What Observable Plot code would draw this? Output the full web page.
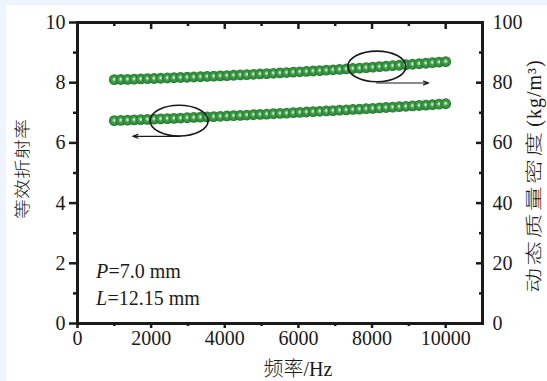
<!DOCTYPE html>
<html>
<head>
<meta charset="utf-8">
<script src="https://cdn.jsdelivr.net/npm/d3@7"></script>
<script src="https://cdn.jsdelivr.net/npm/@observablehq/plot@0.6"></script>
<style>
  html, body { margin: 0; padding: 0; background: #edf4fc; }
  #wrap { position: absolute; left: 6px; top: 5px; width: 541px; height: 376px; background: #ffffff; }
  #chart { position: absolute; left: 0; top: 0; }
</style>
</head>
<body>
<div id="wrap"></div>
<div id="chart"></div>
<script>
// Frequency (Hz)
const frequency = [1000,1180,1360,1540,1720,1900,2080,2260,2440,2620,2800,2980,3160,3340,3520,3700,3880,4060,4240,4420,4600,4780,4960,5140,5320,5500,5680,5860,6040,6220,6400,6580,6760,6940,7120,7300,7480,7660,7840,8020,8200,8380,8560,8740,8920,9100,9280,9460,9640,9820,10000];
// Effective refractive index (left axis)
const refractiveIndex = [6.740,6.748,6.756,6.765,6.773,6.782,6.790,6.799,6.808,6.817,6.826,6.836,6.845,6.855,6.865,6.874,6.884,6.895,6.905,6.915,6.926,6.936,6.947,6.958,6.969,6.980,6.991,7.003,7.014,7.026,7.038,7.050,7.062,7.074,7.086,7.098,7.111,7.124,7.136,7.149,7.162,7.176,7.189,7.202,7.216,7.230,7.243,7.257,7.272,7.286,7.300];
// Dynamic mass density kg/m^3 (right axis)
const massDensity = [81.00,81.06,81.12,81.19,81.26,81.33,81.40,81.48,81.56,81.64,81.72,81.81,81.89,81.98,82.08,82.17,82.27,82.37,82.47,82.57,82.68,82.79,82.90,83.02,83.13,83.25,83.37,83.50,83.62,83.75,83.88,84.01,84.15,84.29,84.43,84.57,84.72,84.86,85.01,85.17,85.32,85.48,85.64,85.80,85.96,86.13,86.30,86.47,86.65,86.82,87.00];

const leftTicks = [0,2,4,6,8,10];
const leftMinor = [1,3,5,7,9];
const rightTicks = [0,20,40,60,80,100];
const rightMinor = [10,30,50,70,90];
const xTicks = [0,2000,4000,6000,8000,10000];
const xMinor = [1000,3000,5000,7000,9000];

const titleLeft = "等效折射率";
const titleRightName = "动态质量密度";
const titleRightUnit = "(kg/m³)";
const titleX = "频率/Hz";

// annotation ellipses and arrows: frequency, value
const circleIndex = {x: 2760, y: 6.74};
const circleDensity = {x: 8130, y: 85.4};
const arrowIndex = {x1: 2790, x2: 1500, y: 6.22};
const arrowDensity = {x1: 8130, x2: 9540, y: 79.9};

const lower = frequency.map((f, i) => ({f, v: refractiveIndex[i]}));
const upper = frequency.map((f, i) => ({f, v: massDensity[i] / 10}));

const ASPECT = 0.53;
const ellipseSymbol = {
  draw(context, size) {
    const rx = Math.sqrt(size / Math.PI), ry = rx * ASPECT, k = 0.5523;
    context.moveTo(rx, 0);
    context.bezierCurveTo(rx, ry * k, rx * k, ry, 0, ry);
    context.bezierCurveTo(-rx * k, ry, -rx, ry * k, -rx, 0);
    context.bezierCurveTo(-rx, -ry * k, -rx * k, -ry, 0, -ry);
    context.bezierCurveTo(rx * k, -ry, rx, -ry * k, rx, 0);
    context.closePath();
  }
};

const defs = () => {
  const d = d3.create("svg:defs");
  const g = d.append("radialGradient").attr("id", "ball")
    .attr("cx", "50%").attr("cy", "50%").attr("r", "50%").attr("fx", "50%").attr("fy", "46%");
  g.append("stop").attr("offset", "0%").attr("stop-color", "#f2fbf2");
  g.append("stop").attr("offset", "18%").attr("stop-color", "#a6d8a9");
  g.append("stop").attr("offset", "42%").attr("stop-color", "#42a04c");
  g.append("stop").attr("offset", "80%").attr("stop-color", "#2f8a3a");
  g.append("stop").attr("offset", "100%").attr("stop-color", "#226f2c");
  return d.node();
};

// letter spacing and glyph stretch for the rotated titles
const styled = (px, sx, sy) => (i, s, v, d, c, next) => {
  const g = next(i, s, v, d, c);
  g.style.letterSpacing = px;
  g.querySelectorAll("text").forEach(t => {
    const tr = t.getAttribute("transform") || "";
    t.setAttribute("transform", `${tr} scale(${sx},${sy})`);
  });
  return g;
};

const ink = "#1a1a1a";
const blank = () => "";
const mixed = "'Liberation Serif', 'Noto Sans CJK SC', serif";
const chart = Plot.plot({
  width: 547,
  height: 381,
  marginLeft: 77,
  marginRight: 65,
  marginTop: 22,
  marginBottom: 58,
  style: {background: "transparent", fontFamily: mixed, fontSize: "20px", color: ink},
  x: {domain: [0, 11000]},
  y: {domain: [0, 10]},
  marks: [
    defs,
    // bottom axis (outward ticks)
    Plot.axisX({anchor: "bottom", ticks: xTicks, tickSize: 5, tickPadding: 2, tickFormat: d => String(d), label: null, strokeWidth: 2.5, color: ink}),
    Plot.axisX({anchor: "bottom", ticks: xMinor, tickSize: 3, tickFormat: blank, label: null, strokeWidth: 2.5, color: ink}),
    // top axis (inward ticks)
    Plot.axisX({anchor: "top", ticks: xTicks, tickSize: -6, tickFormat: blank, label: null, strokeWidth: 2.5, color: ink}),
    Plot.axisX({anchor: "top", ticks: xMinor, tickSize: -3, tickFormat: blank, label: null, strokeWidth: 2.5, color: ink}),
    // left axis (outward ticks)
    Plot.axisY({anchor: "left", ticks: leftTicks, tickSize: 8, tickPadding: 4, tickFormat: d => String(d), label: null, strokeWidth: 2.5, color: ink}),
    Plot.axisY({anchor: "left", ticks: leftMinor, tickSize: 4, tickFormat: blank, label: null, strokeWidth: 2.5, color: ink}),
    // right axis (inward ticks), density scale = 10x index scale
    Plot.axisY({anchor: "right", ticks: rightTicks.map(d => d / 10), tickSize: -7, tickPadding: 17, tickFormat: d => String(Math.round(d * 10)), label: null, strokeWidth: 2.5, color: ink}),
    Plot.axisY({anchor: "right", ticks: rightMinor.map(d => d / 10), tickSize: -4, tickFormat: blank, label: null, strokeWidth: 2.5, color: ink}),
    Plot.frame({stroke: ink, strokeWidth: 3}),
    // series
    Plot.dot(lower, {x: "f", y: "v", r: 5.4, fill: "url(#ball)", stroke: "none"}),
    Plot.dot(upper, {x: "f", y: "v", r: 5.4, fill: "url(#ball)", stroke: "none"}),
    // annotations
    Plot.dot([circleIndex], {x: "x", y: "y", r: 29, symbol: ellipseSymbol, fill: "none", stroke: ink, strokeWidth: 1.6}),
    Plot.dot([circleDensity], {x: "x", y: d => d.y / 10, r: 29, symbol: ellipseSymbol, fill: "none", stroke: ink, strokeWidth: 1.6}),
    Plot.arrow([arrowIndex], {x1: "x1", x2: "x2", y1: "y", y2: "y", stroke: ink, strokeWidth: 1.2, headLength: 7, headAngle: 40}),
    Plot.arrow([arrowDensity], {x1: "x1", x2: "x2", y1: d => d.y / 10, y2: d => d.y / 10, stroke: ink, strokeWidth: 1.2, headLength: 7, headAngle: 40}),
    Plot.text(["P"], {x: 500, y: 1.72, textAnchor: "start", fontStyle: "italic", fill: ink, fontSize: 20}),
    Plot.text(["=7.0 mm"], {x: 500, y: 1.72, dx: 12.5, textAnchor: "start", fill: ink, fontSize: 20}),
    Plot.text(["L"], {x: 500, y: 0.82, textAnchor: "start", fontStyle: "italic", fill: ink, fontSize: 20}),
    Plot.text(["=12.15 mm"], {x: 500, y: 0.82, dx: 11.5, textAnchor: "start", fill: ink, fontSize: 20}),
    // titles
    Plot.text([titleLeft], {frameAnchor: "left", textAnchor: "middle", lineAnchor: "middle", dx: -55, dy: -4, rotate: -90, fill: ink, fontSize: 20, fontFamily: mixed, fontWeight: 300, render: styled("0px", 1.0, 0.8)}),
    Plot.text([titleRightName], {frameAnchor: "right", textAnchor: "middle", lineAnchor: "middle", dx: 52, dy: 38, rotate: -90, fill: ink, fontSize: 19, fontFamily: mixed, fontWeight: 300, render: styled("2px", 1.3, 0.92)}),
    Plot.text([titleRightUnit], {frameAnchor: "right", textAnchor: "middle", lineAnchor: "middle", dx: 52, dy: -80, rotate: -90, fill: ink, fontSize: 20, fontFamily: mixed, render: styled("1px", 1, 1)}),
    Plot.text([titleX], {frameAnchor: "bottom", textAnchor: "middle", lineAnchor: "middle", dx: 18, dy: 46, fill: ink, fontSize: 20, fontFamily: mixed, fontWeight: 300})
  ]
});
document.getElementById("chart").append(chart);
</script>
</body>
</html>
